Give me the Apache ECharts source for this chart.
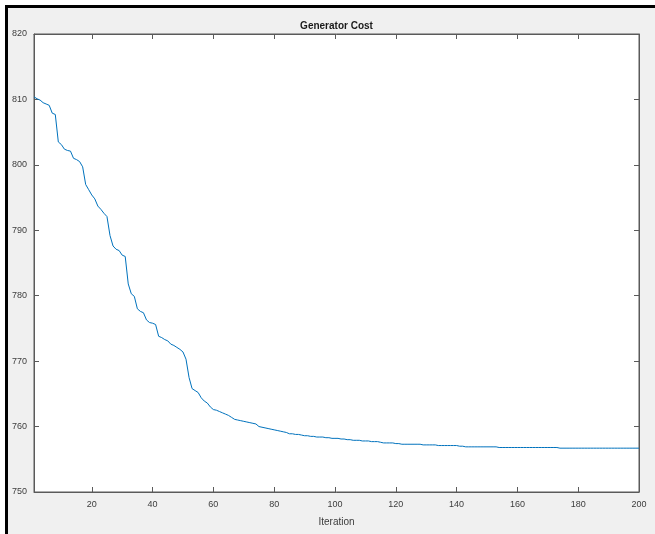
<!DOCTYPE html>
<html>
<head>
<meta charset="utf-8">
<script src="https://cdn.jsdelivr.net/npm/echarts@6/dist/echarts.min.js"></script>
<style>
html,body{margin:0;padding:0;background:#fff;}
#frame{position:absolute;left:5px;top:5px;width:650px;height:529px;box-sizing:border-box;border-top:3px solid #000;border-left:3px solid #000;background:#f0f0f0;}
#chart{position:absolute;left:0;top:0;width:655px;height:534px;}
</style>
</head>
<body>
<div id="frame"></div>
<div id="chart"></div>
<script>
var chartTitle = 'Generator Cost';
var xAxisTitle = 'Iteration';
var xTickValues = [20, 40, 60, 80, 100, 120, 140, 160, 180, 200];
var yTickValues = [750, 760, 770, 780, 790, 800, 810, 820];
var costValues = [
  810.4, 810.1, 809.9, 809.5, 809.3, 809.1, 807.9, 807.7, 803.5, 803.1,
  802.4, 802.2, 802.1, 801.0, 800.8, 800.5, 799.7, 797.0, 796.2, 795.4,
  794.8, 793.7, 793.2, 792.6, 792.1, 789.2, 787.6, 787.1, 786.9, 786.2,
  786.0, 781.8, 780.3, 779.9, 778.0, 777.6, 777.4, 776.3, 775.9, 775.8,
  775.6, 773.8, 773.6, 773.3, 773.1, 772.6, 772.4, 772.1, 771.8, 771.4,
  770.3, 767.5, 765.8, 765.5, 765.2, 764.4, 763.9, 763.6, 763.0, 762.6,
  762.5, 762.3, 762.1, 761.9, 761.7, 761.4, 761.1, 761.0, 760.9, 760.8,
  760.7, 760.6, 760.5, 760.4, 760.0, 759.9, 759.8, 759.7, 759.6, 759.5,
  759.4, 759.3, 759.2, 759.1, 758.9, 758.9, 758.8, 758.8, 758.7, 758.6,
  758.6, 758.5, 758.5, 758.4, 758.4, 758.4, 758.3, 758.3, 758.2, 758.2,
  758.2, 758.1, 758.1, 758.0, 758.0, 757.9, 757.9, 757.9, 757.8, 757.8,
  757.8, 757.7, 757.7, 757.7, 757.6, 757.5, 757.5, 757.5, 757.5, 757.4,
  757.4, 757.3, 757.3, 757.3, 757.3, 757.3, 757.3, 757.3, 757.2, 757.2,
  757.2, 757.2, 757.2, 757.1, 757.1, 757.1, 757.1, 757.1, 757.1, 757.1,
  757.0, 757.0, 756.9, 756.9, 756.9, 756.9, 756.9, 756.9, 756.9, 756.9,
  756.9, 756.9, 756.9, 756.8, 756.8, 756.8, 756.8, 756.8, 756.8, 756.8,
  756.8, 756.8, 756.8, 756.8, 756.8, 756.8, 756.8, 756.8, 756.8, 756.8,
  756.8, 756.8, 756.8, 756.7, 756.7, 756.7, 756.7, 756.7, 756.7, 756.7,
  756.7, 756.7, 756.7, 756.7, 756.7, 756.7, 756.7, 756.7, 756.7, 756.7,
  756.7, 756.7, 756.7, 756.7, 756.7, 756.7, 756.7, 756.7, 756.7, 756.7
];

var seriesData = costValues.map(function (v, i) { return [i + 1, v]; });

var FONT = '"Liberation Sans Narrow", "Arial Narrow", "Liberation Sans", Arial, sans-serif';
var AX = '#5a5a5a';
var LBL = '#3c3c3c';

function xAxisDef(pos, showLabels) {
  return {
    type: 'value', position: pos, min: 1, max: 200,
    name: showLabels ? xAxisTitle : '',
    nameLocation: 'middle', nameGap: 25,
    nameTextStyle: { fontFamily: FONT, fontSize: 10, color: LBL },
    axisLine: { show: true, onZero: false, lineStyle: { color: AX, width: 1 } },
    axisTick: { show: true, inside: true, length: 5, customValues: xTickValues, lineStyle: { color: AX } },
    axisLabel: { show: showLabels, customValues: xTickValues, margin: 8, fontFamily: FONT, fontSize: 9, color: LBL },
    splitLine: { show: false }
  };
}
function yAxisDef(pos, showLabels) {
  return {
    type: 'value', position: pos, min: 750, max: 820,
    axisLine: { show: true, onZero: false, lineStyle: { color: AX, width: 1 } },
    axisTick: { show: true, inside: true, length: 5, customValues: yTickValues, lineStyle: { color: AX } },
    axisLabel: { show: showLabels, customValues: yTickValues, margin: 7, fontFamily: FONT, fontSize: 9, color: LBL },
    splitLine: { show: false }
  };
}

var chart = echarts.init(document.getElementById('chart'), null, { renderer: 'canvas' });
chart.setOption({
  animation: false,
  backgroundColor: 'transparent',
  title: {
    text: chartTitle, left: 336.5, top: 21, padding: 0, textAlign: 'center',
    textStyle: { fontFamily: FONT, fontSize: 10, fontWeight: 'bold', color: '#1a1a1a' }
  },
  grid: { left: 34, right: 16, top: 34, bottom: 42, show: true, backgroundColor: '#ffffff', borderColor: AX, borderWidth: 1 },
  xAxis: [xAxisDef('bottom', true), xAxisDef('top', false)],
  yAxis: [yAxisDef('left', true), yAxisDef('right', false)],
  series: [{
    type: 'line', data: seriesData, showSymbol: false, symbol: 'none',
    lineStyle: { color: '#0072BD', width: 1 }, itemStyle: { color: '#0072BD' }
  }]
});
</script>
</body>
</html>
